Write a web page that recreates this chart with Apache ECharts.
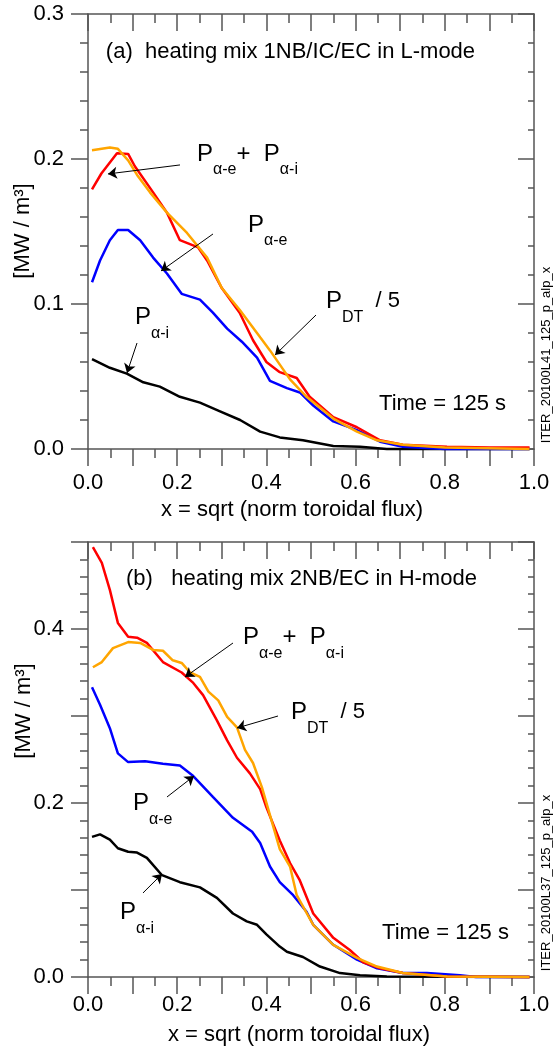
<!DOCTYPE html>
<html>
<head>
<meta charset="utf-8">
<script src="https://cdn.jsdelivr.net/npm/echarts@6.0.0/dist/echarts.min.js"></script>
<style>
html, body { margin: 0; padding: 0; background: #fff; }
#main { width: 553px; height: 1051px; }
</style>
</head>
<body>
<div id="main"></div>
<script>
// (a) L-mode, 1NB/IC/EC  -- [x, MW/m3]
var topSum = [[0.009,0.179],[0.03,0.190],[0.065,0.204],[0.09,0.2035],[0.105,0.195],[0.146,0.177],[0.177,0.163],[0.206,0.144],[0.247,0.139],[0.267,0.130],[0.30,0.111],[0.34,0.094],[0.37,0.075],[0.40,0.060],[0.43,0.053],[0.468,0.049],[0.497,0.036],[0.55,0.022],[0.603,0.015],[0.655,0.006],[0.706,0.003],[0.805,0.0015],[0.9,0.001],[0.99,0.001]];
var topPdt = [[0.009,0.206],[0.049,0.208],[0.067,0.207],[0.09,0.199],[0.11,0.189],[0.139,0.177],[0.177,0.163],[0.222,0.149],[0.267,0.132],[0.30,0.111],[0.34,0.096],[0.386,0.077],[0.408,0.068],[0.453,0.048],[0.49,0.036],[0.55,0.021],[0.603,0.012],[0.648,0.006],[0.706,0.003],[0.8,0.001],[0.99,0.0]];
var topAlphaE = [[0.009,0.115],[0.027,0.130],[0.049,0.144],[0.067,0.151],[0.09,0.151],[0.117,0.144],[0.146,0.132],[0.177,0.121],[0.21,0.107],[0.251,0.103],[0.28,0.094],[0.312,0.083],[0.345,0.074],[0.379,0.063],[0.408,0.047],[0.446,0.042],[0.475,0.039],[0.505,0.030],[0.55,0.019],[0.603,0.013],[0.655,0.005],[0.706,0.0015],[0.8,0.0],[0.99,0.0]];
var topAlphaI = [[0.009,0.062],[0.049,0.056],[0.087,0.052],[0.124,0.046],[0.161,0.043],[0.206,0.036],[0.251,0.032],[0.296,0.026],[0.341,0.020],[0.386,0.012],[0.43,0.008],[0.482,0.006],[0.55,0.002],[0.61,0.0015],[0.67,0.0],[0.99,0.0]];

// (b) H-mode, 2NB/EC
var botSum = [[0.011,0.494],[0.031,0.476],[0.049,0.445],[0.067,0.407],[0.09,0.391],[0.11,0.39],[0.132,0.384],[0.168,0.362],[0.21,0.35],[0.236,0.338],[0.258,0.324],[0.289,0.295],[0.312,0.272],[0.334,0.252],[0.363,0.234],[0.386,0.216],[0.40,0.195],[0.43,0.157],[0.453,0.131],[0.475,0.111],[0.505,0.073],[0.55,0.045],[0.587,0.031],[0.617,0.017],[0.655,0.010],[0.706,0.0045],[0.805,0.0005],[0.99,0.0]];
var botPdt = [[0.011,0.356],[0.031,0.362],[0.056,0.378],[0.09,0.385],[0.117,0.384],[0.146,0.376],[0.168,0.375],[0.19,0.364],[0.21,0.361],[0.229,0.35],[0.251,0.345],[0.27,0.328],[0.292,0.318],[0.312,0.299],[0.334,0.287],[0.352,0.261],[0.37,0.246],[0.39,0.218],[0.408,0.186],[0.43,0.147],[0.453,0.127],[0.468,0.094],[0.505,0.060],[0.55,0.037],[0.603,0.022],[0.648,0.012],[0.706,0.0045],[0.805,0.0005],[0.99,0.0]];
var botAlphaE = [[0.009,0.333],[0.027,0.313],[0.049,0.286],[0.067,0.257],[0.09,0.247],[0.128,0.248],[0.168,0.245],[0.206,0.243],[0.236,0.231],[0.28,0.207],[0.325,0.183],[0.368,0.167],[0.386,0.154],[0.408,0.127],[0.43,0.109],[0.46,0.094],[0.49,0.075],[0.505,0.060],[0.55,0.037],[0.603,0.020],[0.648,0.010],[0.706,0.0045],[0.76,0.0045],[0.834,0.002],[0.87,0.0],[0.99,0.0]];
var botAlphaI = [[0.009,0.161],[0.027,0.164],[0.049,0.158],[0.067,0.148],[0.09,0.144],[0.11,0.143],[0.132,0.137],[0.166,0.117],[0.206,0.109],[0.251,0.103],[0.289,0.091],[0.325,0.073],[0.356,0.064],[0.379,0.060],[0.40,0.049],[0.43,0.035],[0.446,0.029],[0.482,0.023],[0.52,0.012],[0.565,0.0045],[0.61,0.002],[0.67,0.0005],[0.99,0.0]];

var yMaxTop = 0.3, yMaxBot = 0.5;

// annotations, in data units (label = top-left of text box)
var topNotes = [
    [[0.040, 0.2814], '{t|(a)  heating mix 1NB/IC/EC in L-mode}'],
    [[0.2444, 0.2117], '{p|P}{s|α-e}{p|+  P}{s|α-i}'],
    [[0.3587, 0.1628], '{p|P}{s|α-e}'],
    [[0.1054, 0.0990], '{p|P}{s|α-i}'],
    [[0.5336, 0.1100], '{p|P}{s|DT}{q|  / 5}'],
    [[0.6525, 0.0386], '{t|Time = 125 s}']
];
var topArrows = [
    [[0.2063, 0.1959], [0.0448, 0.1897]],
    [[0.2803, 0.1483], [0.1637, 0.1228]],
    [[0.1099, 0.0731], [0.0874, 0.0524]],
    [[0.5112, 0.0924], [0.4193, 0.0648]]
];
var botNotes = [
    [[0.0852, 0.4701], '{t|(b)   heating mix 2NB/EC in H-mode}'],
    [[0.3475, 0.4040], '{p|P}{s|α-e}{p|+  P}{s|α-i}'],
    [[0.4552, 0.3178], '{p|P}{s|DT}{q|  / 5}'],
    [[0.1009, 0.2132], '{p|P}{s|α-e}'],
    [[0.0717, 0.0879], '{p|P}{s|α-i}'],
    [[0.6592, 0.0632], '{t|Time = 125 s}']
];
var botArrows = [
    [[0.3251, 0.3839], [0.2175, 0.3448]],
    [[0.426, 0.300], [0.3341, 0.2862]],
    [[0.1771, 0.2069], [0.2377, 0.2310]],
    [[0.1233, 0.0966], [0.1659, 0.1184]]
];

var FONT = '"Liberation Sans", Arial, Helvetica, sans-serif';
var AX = '#555';
var rich = {
    t: { fontSize: 22, lineHeight: 22, fontFamily: FONT, color: '#000', verticalAlign: 'top' },
    p: { fontSize: 24, lineHeight: 24, fontFamily: FONT, color: '#000', verticalAlign: 'top' },
    s: { fontSize: 16, lineHeight: 16, fontFamily: FONT, color: '#000', verticalAlign: 'top', padding: [20, 0, 0, 0] },
    q: { fontSize: 22, lineHeight: 24, fontFamily: FONT, color: '#000', verticalAlign: 'top' }
};

function lineStyle() { return { color: AX, width: 1.5 }; }

function xBottom(gi, margin) {
    return {
        type: 'value', gridIndex: gi, position: 'bottom', min: 0, max: 1, interval: 0.1,
        axisLine: { show: true, onZero: false, lineStyle: lineStyle() },
        axisTick: { show: true, length: 17, lineStyle: lineStyle() },
        minorTick: { show: true, splitNumber: 2, length: 9, lineStyle: lineStyle() },
        axisLabel: {
            show: true, margin: margin, color: '#000', fontSize: 22, fontFamily: FONT,
            formatter: function (v) { return Math.round(v * 10) % 2 === 0 ? v.toFixed(1) : ''; }
        },
        splitLine: { show: false }
    };
}
function xTop(gi) {
    return {
        type: 'value', gridIndex: gi, position: 'top', min: 0, max: 1, interval: 0.1,
        axisLine: { show: true, onZero: false, lineStyle: lineStyle() },
        axisTick: { show: true, inside: true, length: 17, lineStyle: lineStyle() },
        minorTick: { show: true, splitNumber: 2, length: 9, lineStyle: lineStyle() },
        axisLabel: { show: false },
        splitLine: { show: false }
    };
}
function yLeft(gi, max, every) {
    return {
        type: 'value', gridIndex: gi, position: 'left', min: 0, max: max, interval: 0.1,
        axisLine: { show: true, onZero: false, lineStyle: lineStyle() },
        axisTick: { show: true, length: 17, lineStyle: lineStyle() },
        minorTick: { show: true, splitNumber: 5, length: 8, lineStyle: lineStyle() },
        axisLabel: {
            show: true, margin: 24, color: '#000', fontSize: 22, fontFamily: FONT,
            formatter: function (v) { return Math.round(v * 10) % every === 0 ? v.toFixed(1) : ''; }
        },
        splitLine: { show: false }
    };
}
function yRight(gi, max) {
    return {
        type: 'value', gridIndex: gi, position: 'right', min: 0, max: max, interval: 0.1,
        axisLine: { show: true, onZero: false, lineStyle: lineStyle() },
        axisTick: { show: true, inside: true, length: 16, lineStyle: lineStyle() },
        minorTick: { show: true, splitNumber: 5, length: 6, lineStyle: lineStyle() },
        axisLabel: { show: false },
        splitLine: { show: false }
    };
}

function curve(data, color, xi, yi) {
    return {
        type: 'line', data: data, xAxisIndex: xi, yAxisIndex: yi,
        showSymbol: false, symbol: 'none', silent: true, clip: false,
        lineStyle: { color: color, width: 2.5 }
    };
}
function withNotes(s, notes, arrows) {
    s.markPoint = {
        silent: true, symbol: 'circle', symbolSize: 0,
        itemStyle: { color: 'transparent' },
        label: { show: true, position: [0, 0], align: 'left', verticalAlign: 'top', rich: rich },
        data: notes.map(function (n) {
            return { coord: n[0], label: { formatter: n[1] } };
        })
    };
    s.markLine = {
        silent: true, symbol: ['none', 'arrow'], symbolSize: 9,
        label: { show: false },
        lineStyle: { color: '#000', width: 1, type: 'solid' },
        data: arrows.map(function (a) {
            return [{ coord: a[0] }, { coord: a[1] }];
        })
    };
    return s;
}

function gtext(x, y, text, size, rot) {
    return {
        type: 'text', x: x, y: y, rotation: rot || 0, silent: true,
        style: { text: text, fontSize: size, fontFamily: FONT, fill: '#000', align: 'center', verticalAlign: 'middle' }
    };
}

var myChart = echarts.init(document.getElementById('main'));
var option = {
    animation: false,
    backgroundColor: '#fff',
    grid: [
        { left: 88, top: 14, width: 446, height: 435 },
        { left: 88, top: 542, width: 446, height: 435 }
    ],
    xAxis: [xBottom(0, 23), xTop(0), xBottom(1, 17), xTop(1)],
    yAxis: [yLeft(0, yMaxTop, 1), yRight(0, yMaxTop), yLeft(1, yMaxBot, 2), yRight(1, yMaxBot)],
    series: [
        withNotes(curve(topAlphaI, '#000000', 0, 0), topNotes, topArrows),
        curve(topAlphaE, '#0000ff', 0, 0),
        curve(topSum, '#ff0000', 0, 0),
        curve(topPdt, '#ffa500', 0, 0),
        withNotes(curve(botAlphaI, '#000000', 2, 2), botNotes, botArrows),
        curve(botAlphaE, '#0000ff', 2, 2),
        curve(botSum, '#ff0000', 2, 2),
        curve(botPdt, '#ffa500', 2, 2)
    ],
    graphic: [
        gtext(292, 510, 'x = sqrt (norm toroidal flux)', 22),
        gtext(299, 1035, 'x = sqrt (norm toroidal flux)', 22),
        gtext(23, 231, '[MW / m³]', 22, Math.PI / 2),
        gtext(24, 711, '[MW / m³]', 22, Math.PI / 2),
        gtext(546, 355, 'ITER_20100L41_125_p_alp_x', 13, Math.PI / 2),
        gtext(546, 883, 'ITER_20100L37_125_p_alp_x', 13, Math.PI / 2)
    ]
};
myChart.setOption(option);

// the axis ticks get built but do not show up in this layout: finish any
// pending animation on them, switch off path batching and redraw
function showTicks() {
    var zr = myChart.getZr();
    var list = zr.storage.getDisplayList(true, true);
    list.forEach(function (el) {
        if (el.stopAnimation) el.stopAnimation(null, true);
        if (el.type === 'line') {
            el.autoBatch = false;
            el.ignore = false;
            el.invisible = false;
            el.culling = false;
            if (el.shape && el.shape.percent != null) el.shape.percent = 1;
            if (el.style) el.style.opacity = 1;
            el.markRedraw();
        }
    });
    zr.refreshImmediately();
}
showTicks();
setTimeout(showTicks, 50);
</script>
</body>
</html>
